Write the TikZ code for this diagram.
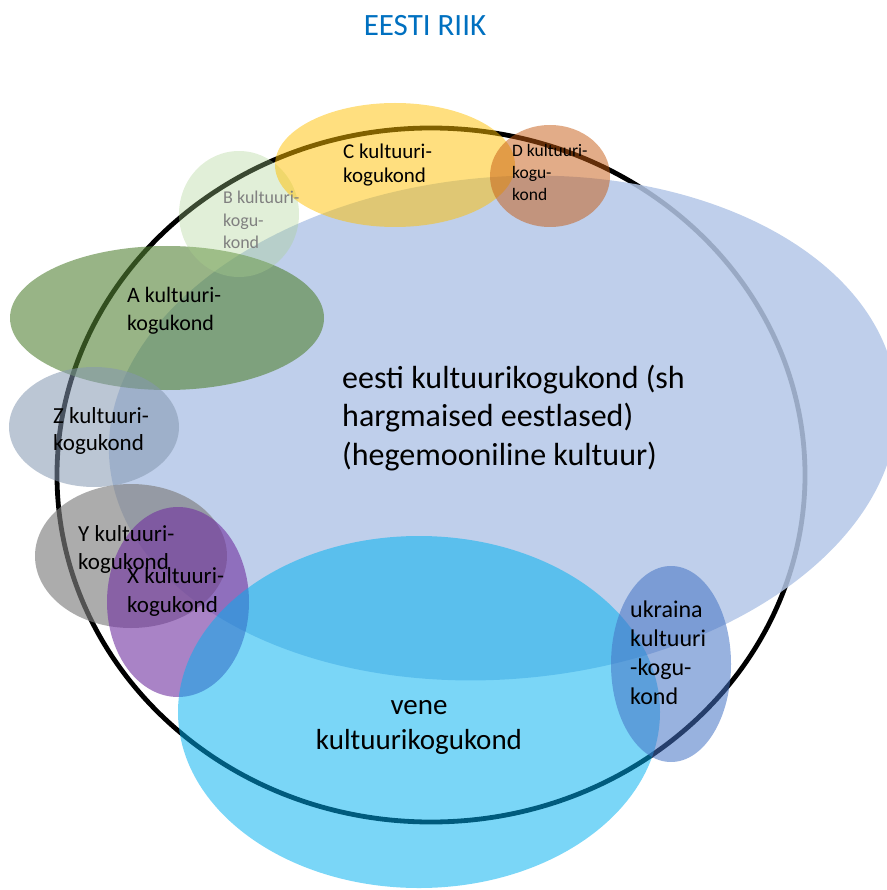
\documentclass[tikz,border=0pt]{standalone}
\usepackage{fontspec}
\setmainfont{Carlito}
\usepackage{xcolor}
\usepackage{tikz}

\definecolor{riikblue}{HTML}{0070C0}
\definecolor{eestiblue}{HTML}{B4C7E7}
\definecolor{cyellow}{HTML}{FFC000}
\definecolor{dorange}{HTML}{C55A11}
\definecolor{bgreen}{HTML}{A9D18E}
\definecolor{agreen}{HTML}{548235}
\definecolor{zgrey}{HTML}{8497B0}
\definecolor{ygrey}{HTML}{7F7F7F}
\definecolor{xpurple}{HTML}{7030A0}
\definecolor{venecyan}{HTML}{00B0F0}
\definecolor{ukrblue}{HTML}{4472C4}

\newcommand{\fs}[2]{\fontsize{#1}{#2}\selectfont}

\begin{document}
\begin{tikzpicture}[x=1pt, y=-1pt,
    kogu/.style={fill opacity=#1},
    lbl/.style={align=left, anchor=west, inner sep=0pt}]
      \useasboundingbox (0,0) rectangle (886,890);

      % riigi piir
      \draw[line width=4.8pt] (431,475) ellipse (374 and 347);

      % kultuurikogukonnad
      \fill[eestiblue, kogu=.85, rotate around={5:(503,428)}] (503,428) ellipse (395 and 251);
      \fill[agreen, kogu=.6]  (167,318) ellipse (157 and 72);
      \fill[bgreen, kogu=.35] (239,214) ellipse (60 and 63);
      \fill[zgrey, kogu=.55]  (94,427)  ellipse (85 and 60);
      \fill[ygrey, kogu=.65]  (131,556) ellipse (96 and 72);
      \fill[xpurple, kogu=.6] (178,602) ellipse (71 and 95);
      \fill[cyellow, kogu=.5] (395,165) ellipse (120 and 62);
      \fill[dorange, kogu=.5] (550,176) ellipse (60 and 51);
      \fill[venecyan, kogu=.52] (419,712) ellipse (241 and 176);
      \fill[ukrblue, kogu=.55]  (671,664) ellipse (60 and 98);

      % tekstid
      \node[text=riikblue, font=\fs{31}{36}] (riik) at (425,26) {EESTI RIIK};

      \node[lbl, font=\fs{32}{38.5}] (eesti) at (342,418)
            {eesti kultuurikogukond (sh\\hargmaised eestlased)\\(hegemooniline kultuur)};
      \node[align=center, inner sep=0pt, font=\fs{29}{35}] (vene) at (419,727)
            {vene\\kultuurikogukond};
      \node[lbl, font=\fs{24}{29}] (ukr) at (630,653) {ukraina\\kultuuri\\-kogu-\\kond};

      \node[lbl, font=\fs{21}{24.5}] (C) at (343,165) {C kultuuri-\\kogukond};
      \node[lbl, font=\fs{17.5}{22}] (D) at (512,172) {D kultuuri-\\kogu-\\kond};
      \node[lbl, text=black!50, font=\fs{18}{22.5}] (B) at (223,220) {B kultuuri-\\kogu-\\kond};
      \node[lbl, font=\fs{22}{28}] (A) at (127,311) {A kultuuri-\\kogukond};
      \node[lbl, font=\fs{23}{27}] (Z) at (53,431) {Z kultuuri-\\kogukond};
      \node[lbl, font=\fs{23}{28}] (Y) at (78,549) {Y kultuuri-\\kogukond};
      \node[lbl, font=\fs{23}{28.5}] (X) at (127,592) {X kultuuri-\\kogukond};
    \end{tikzpicture}
\end{document}
